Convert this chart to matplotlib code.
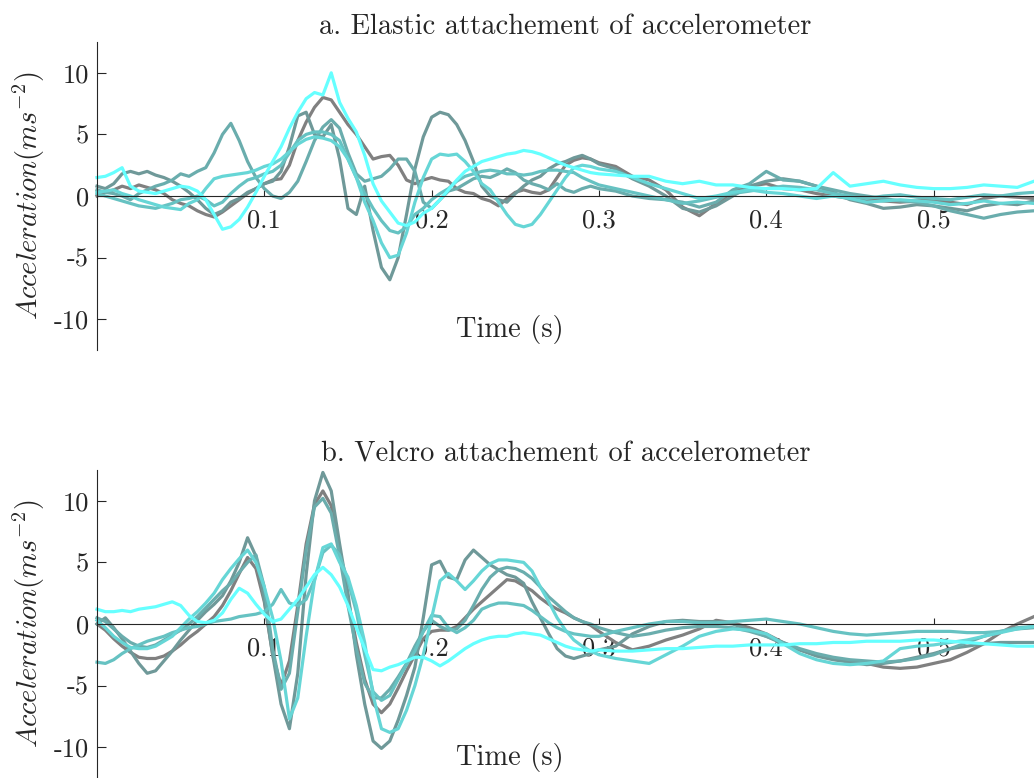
"""Plots accelerometer traces for elastic and velcro attachement."""

import matplotlib
matplotlib.use('Agg')
import matplotlib.pyplot as plt

# Sample times (s)
TIME = [0.000, 0.005, 0.010, 0.015, 0.020, 0.025, 0.030, 0.035, 0.040, 0.045,
        0.050, 0.055, 0.060, 0.065, 0.070, 0.075, 0.080, 0.085, 0.090, 0.095,
        0.100, 0.105, 0.110, 0.115, 0.120, 0.125, 0.130, 0.135, 0.140, 0.145,
        0.150, 0.155, 0.160, 0.165, 0.170, 0.175, 0.180, 0.185, 0.190, 0.195,
        0.200, 0.205, 0.210, 0.215, 0.220, 0.225, 0.230, 0.235, 0.240, 0.245,
        0.250, 0.255, 0.260, 0.265, 0.270, 0.275, 0.280, 0.285, 0.290, 0.295,
        0.300, 0.310, 0.320, 0.330, 0.340, 0.350, 0.360, 0.370, 0.380, 0.390,
        0.400, 0.410, 0.420, 0.430, 0.440, 0.450, 0.460, 0.470, 0.480, 0.490,
        0.500, 0.510, 0.520, 0.530, 0.540, 0.550, 0.560]

# a. Elastic attachement (m/s^2)
ELASTIC_1 = [0.0, 0.3, 0.5, 0.8, 0.6, 0.9, 0.7, 0.5, 0.2, -0.3,
             -0.6, -0.8, -1.2, -1.5, -1.7, -1.3, -0.8, -0.3, 0.2, 0.6,
             1.0, 1.3, 1.4, 2.5, 4.5, 6.0, 7.2, 8.0, 7.8, 6.8,
             5.8, 5.0, 4.0, 3.0, 3.2, 3.3, 2.5, 1.3, 1.0, 1.3,
             1.5, 1.3, 1.2, 0.6, 0.3, 0.2, -0.2, -0.4, -0.8, -0.2,
             0.3, 0.5, 0.3, 0.2, 0.5, 1.5, 2.5, 2.9, 3.1, 3.0,
             2.7, 2.4, 1.6, 1.3, 0.5, -0.9, -1.6, -0.6, 0.3, 0.8,
             1.0, 0.6, 0.5, 0.2, 0.0, -0.2, -0.3, -0.4, -0.5, -0.4,
             -0.3, -0.5, -0.7, -0.2, 0.0, -0.1, -0.2]
ELASTIC_2 = [0.8, 0.6, 1.0, 1.8, 2.0, 1.8, 2.0, 1.7, 1.5, 1.2,
             0.8, 0.3, -0.3, -1.0, -1.5, -1.2, -0.5, -0.2, 0.3, 0.6,
             1.0, 1.2, 2.0, 4.0, 6.5, 6.8, 5.0, 4.8, 5.8, 3.0,
             -1.0, -1.5, 0.8, -2.8, -5.8, -6.8, -5.0, -1.5, 2.2, 4.8,
             6.4, 6.8, 6.6, 5.8, 4.5, 2.8, 0.8, 0.0, -0.3, -0.5,
             0.2, 0.8, 1.3, 1.6, 2.2, 2.6, 2.8, 3.1, 3.3, 3.0,
             2.6, 2.2, 1.4, 0.8, 0.0, -1.0, -1.3, -0.8, 0.0, 0.8,
             1.2, 1.4, 1.2, 0.8, 0.3, -0.3, -0.6, -1.0, -0.9, -0.7,
             -0.8, -1.0, -1.2, -0.8, -0.6, -0.7, -0.4]
ELASTIC_3 = [0.5, 0.3, 0.2, 0.0, -0.3, 0.2, 0.5, 0.8, 1.0, 1.3,
             1.8, 1.6, 2.0, 2.3, 3.5, 5.0, 5.9, 4.5, 2.8, 1.5,
             0.6, 0.0, -0.2, 0.3, 1.2, 2.8, 4.5, 5.6, 6.2, 5.5,
             3.5, 1.8, 1.2, 1.4, 1.6, 2.2, 3.0, 3.0, 2.0, -0.5,
             -1.0, -0.3, 0.4, 0.6, 1.0, 1.4, 1.6, 1.5, 1.8, 2.2,
             1.9, 1.3, 1.0, 0.8, 0.5, 1.0, 0.5, 0.3, 0.6, 0.8,
             0.6, 0.4, 0.0, -0.2, -0.3, -0.5, -0.9, -0.5, 0.5, 1.0,
             2.0, 1.3, 1.2, 0.8, 0.5, 0.2, 0.0, -0.2, -0.4, -0.5,
             -0.8, -1.2, -1.5, -1.8, -1.5, -1.3, -1.2]
ELASTIC_4 = [0.2, 0.0, -0.2, -0.4, -0.6, -0.8, -0.9, -1.0, -0.8, -0.6,
             -0.3, -0.2, 0.0, -0.3, -0.8, -0.5, 0.2, 0.8, 1.3, 1.5,
             1.8, 2.0, 2.5, 3.5, 4.5, 5.0, 5.2, 5.2, 5.0, 4.5,
             3.0, 1.5, 0.2, -1.0, -2.0, -2.8, -3.0, -2.5, -1.5, -1.0,
             -0.3, 0.2, 0.6, 1.2, 1.6, 1.8, 2.0, 2.1, 2.0, 1.8,
             1.8, 1.7, 1.8, 2.0, 2.1, 2.1, 2.0, 1.9, 1.5, 1.2,
             0.9, 0.6, 0.3, 0.0, -0.3, -0.6, -0.4, -0.1, 0.2, 0.4,
             0.6, 0.8, 0.7, 0.5, 0.2, 0.0, -0.2, 0.0, 0.1, -0.1,
             -0.2, -0.3, -0.1, 0.1, 0.0, 0.2, 0.3]
ELASTIC_5 = [0.3, 0.4, 0.5, 0.2, 0.0, -0.3, -0.5, -0.7, -0.9, -1.0,
             -1.1, -0.6, -0.3, 0.6, 1.4, 1.6, 1.7, 1.8, 1.9, 2.1,
             2.4, 2.6, 3.0, 3.6, 4.2, 4.6, 4.8, 4.7, 4.5, 4.0,
             3.0, 1.5, -0.5, -2.0, -3.8, -5.0, -4.8, -3.0, -0.5, 1.5,
             3.0, 3.4, 3.3, 3.4, 2.8, 2.0, 1.0, 0.5, -0.5, -1.5,
             -2.3, -2.5, -2.3, -1.5, -0.5, 0.5, 1.5, 2.3, 2.5, 2.4,
             2.2, 2.0, 1.5, 1.0, 0.6, 0.2, -0.2, 0.0, 0.3, 0.5,
             0.3, 0.2, 0.0, -0.2, 0.0, -0.2, -0.5, -0.4, -0.3, -0.4,
             -0.5, -0.7, -0.6, -0.4, -0.6, -0.5, -0.6]
ELASTIC_6 = [1.5, 1.6, 1.9, 2.3, 0.8, 0.4, 0.3, 0.2, 0.4, 0.6,
             0.8, 0.7, 0.4, -0.3, -1.5, -2.7, -2.5, -1.9, -0.9, 0.3,
             1.6, 2.8, 4.0, 5.5, 6.8, 7.9, 8.4, 8.2, 10.0, 7.6,
             6.3, 5.2, 3.3, 1.0, -0.4, -1.3, -2.2, -2.4, -2.1, -1.4,
             -1.0, -0.3, 0.5, 1.3, 2.0, 2.4, 2.8, 3.0, 3.2, 3.4,
             3.5, 3.7, 3.6, 3.4, 3.1, 2.8, 2.5, 2.3, 2.1, 1.9,
             1.8, 1.7, 1.6, 1.6, 1.2, 1.0, 1.2, 0.9, 0.9, 0.7,
             0.6, 0.6, 0.5, 0.6, 1.9, 0.8, 1.0, 1.2, 0.9, 0.7,
             0.6, 0.6, 0.7, 0.9, 0.8, 0.7, 1.2]

# b. Velcro attachement (m/s^2)
VELCRO_1 = [0.0, -0.5, -1.2, -1.8, -2.3, -2.7, -2.8, -2.8, -2.6, -2.2,
            -1.7, -1.1, -0.6, 0.0, 0.6, 1.5, 2.7, 4.1, 5.4, 4.5,
            1.8, -2.5, -5.0, -3.0, 1.5, 6.5, 9.7, 10.8, 9.6, 6.0,
            2.0, -1.5, -4.5, -6.5, -7.2, -6.5, -5.2, -3.8, -2.5, -1.2,
            -0.6, -0.5, -0.5, -0.2, 0.5, 1.2, 1.8, 2.4, 3.0, 3.6,
            3.5, 3.1, 2.7, 2.1, 1.6, 1.2, 0.9, 0.5, 0.2, -0.1,
            -0.6, -1.5, -2.1, -1.8, -1.3, -0.9, -0.4, 0.3, 0.1, -0.3,
            -0.8, -1.5, -2.1, -2.5, -2.8, -3.0, -3.2, -3.5, -3.6, -3.5,
            -3.2, -2.9, -2.3, -1.6, -0.7, 0.0, 0.6]
VELCRO_2 = [0.0, 0.5, -0.3, -1.2, -2.2, -3.2, -4.0, -3.8, -3.0, -2.2,
            -1.3, -0.5, 0.3, 1.0, 1.6, 2.3, 3.5, 5.0, 7.0, 5.5,
            2.0, -2.5, -6.5, -8.5, -4.0, 4.0, 10.0, 12.3, 10.8, 6.5,
            2.5, -2.5, -6.5, -9.5, -10.1, -9.5, -7.8, -5.8, -3.5, 0.5,
            4.8, 5.1, 3.8, 3.6, 5.2, 6.0, 5.4, 4.8, 4.4, 4.0,
            3.8, 3.3, 1.8, 0.5, -0.8, -2.0, -2.6, -2.8, -2.6, -2.4,
            -2.1, -1.8, -0.8, -0.2, 0.2, 0.3, 0.2, 0.2, 0.0, -0.5,
            -1.0, -1.6, -2.1, -2.6, -2.9, -3.1, -3.3, -3.2, -3.0, -2.7,
            -2.4, -2.0, -1.8, -1.6, -1.5, -1.5, -1.5]
VELCRO_3 = [0.5, 0.2, -0.4, -1.0, -1.5, -1.8, -1.9, -1.7, -1.3, -0.9,
            -0.5, 0.0, 0.6, 1.3, 2.0, 2.7, 3.3, 4.2, 5.0, 5.6,
            3.0, -2.0, -5.3, -4.0, 1.0, 6.0, 9.5, 10.2, 9.0, 5.5,
            1.5, -2.0, -4.8, -6.0, -6.0, -5.3, -4.3, -3.2, -1.8, -0.6,
            0.3, -0.2, -0.5, -0.4, 0.3, 1.5, 2.8, 3.8, 4.4, 4.6,
            4.5, 4.2, 3.7, 3.0, 2.2, 1.6, 1.0, 0.5, 0.2, 0.0,
            -0.3, -0.7, -1.0, -0.8, -0.5, -0.3, -0.2, -0.2, -0.3, -0.6,
            -1.0, -1.5, -2.0, -2.4, -2.7, -2.9, -3.0, -3.1, -3.0, -2.8,
            -2.5, -2.0, -1.5, -1.0, -0.6, -0.4, -0.3]
VELCRO_4 = [-3.1, -3.2, -2.9, -2.4, -2.0, -1.7, -1.4, -1.2, -1.0, -0.7,
            -0.5, -0.3, -0.2, 0.0, 0.2, 0.3, 0.4, 0.6, 0.7, 0.8,
            1.0, 1.6, 2.8, 1.7, 1.5, 2.0, 3.6, 5.8, 6.4, 5.6,
            3.5, 1.0, -2.5, -5.5, -6.2, -5.8, -4.5, -3.3, -2.2, -0.6,
            0.7, 0.6, -0.3, -0.7, -0.3, 0.3, 1.2, 1.5, 1.7, 1.7,
            1.6, 1.5, 1.1, 0.6, 0.1, -0.3, -0.6, -0.8, -0.9, -1.0,
            -1.0, -0.6, -0.3, 0.0, 0.2, 0.2, 0.1, 0.1, 0.2, 0.3,
            0.4, 0.2, 0.0, -0.3, -0.6, -0.8, -0.9, -0.8, -0.7, -0.6,
            -0.6, -0.6, -0.7, -0.7, -0.6, -0.3, -0.2]
VELCRO_5 = [0.3, -0.3, -1.0, -1.5, -1.9, -2.0, -2.0, -1.8, -1.4, -1.0,
            -0.3, 0.4, 1.0, 1.7, 2.5, 3.6, 4.5, 5.3, 6.0, 5.0,
            3.0, 0.5, -3.0, -7.7, -6.0, -1.0, 3.5, 6.2, 6.5, 5.0,
            3.8, 1.5, -1.5, -5.8, -8.5, -8.8, -8.5, -7.0, -5.0, -2.5,
            0.5, 3.5, 4.1, 3.5, 2.8, 3.5, 4.3, 4.9, 5.2, 5.2,
            5.1, 5.0, 4.3, 3.0, 1.8, 0.5, -0.5, -1.3, -1.8, -2.2,
            -2.5, -2.8, -3.0, -3.2, -2.5, -1.8, -1.0, -0.6, -0.4, -0.5,
            -0.8, -1.6, -2.4, -2.9, -3.2, -3.3, -3.2, -3.0, -2.0, -1.8,
            -1.7, -1.5, -1.3, -1.0, -0.7, -0.4, -0.2]
VELCRO_6 = [1.2, 1.0, 1.0, 1.1, 1.0, 1.2, 1.3, 1.4, 1.6, 1.8,
            1.5, 0.7, 0.2, 0.1, 0.3, 0.9, 2.0, 2.9, 2.5, 1.6,
            0.8, 0.2, 0.4, 1.2, 2.0, 3.0, 4.0, 4.6, 4.0, 3.0,
            1.5, -0.3, -2.0, -3.7, -3.8, -3.5, -3.3, -3.0, -2.7, -2.7,
            -3.0, -3.4, -3.0, -2.5, -2.0, -1.6, -1.3, -1.1, -1.0, -1.0,
            -0.8, -0.7, -0.8, -0.9, -1.2, -1.5, -1.8, -2.0, -2.1, -2.2,
            -2.1, -2.2, -2.2, -2.1, -2.0, -2.0, -1.9, -1.8, -1.8, -1.7,
            -1.7, -1.7, -1.6, -1.6, -1.5, -1.5, -1.4, -1.4, -1.4, -1.3,
            -1.3, -1.4, -1.5, -1.6, -1.7, -1.8, -1.8]

X_TICKS = [0.1, 0.2, 0.3, 0.4, 0.5]
X_LABELS = ['0.1', '0.2', '0.3', '0.4', '0.5']
Y_TICKS = [-10, -5, 0, 5, 10]
Y_LABELS = ['-10', '-5', '0', '5', '10']

COLORS = ['#808080', '#6f9999', '#6aadad', '#66c2c2', '#66d6d6', '#66ffff']
INK = '#262626'


def style_axes(axes, title):
    """Sets MATLAB-like origin axes on one panel."""
    axes.set_xlim(0, 0.56)
    axes.set_ylim(-12.5, 12.5)
    axes.spines['bottom'].set_position(('data', 0))
    axes.spines['top'].set_visible(False)
    axes.spines['right'].set_visible(False)
    for side in ('left', 'bottom'):
        axes.spines[side].set_color(INK)
        axes.spines[side].set_linewidth(0.8)
    axes.set_xticks(X_TICKS)
    axes.set_xticklabels(X_LABELS)
    axes.set_yticks(Y_TICKS)
    axes.set_yticklabels(Y_LABELS)
    axes.tick_params(axis='x', direction='in', length=4.5, width=0.8,
                     pad=9, labelsize=19, colors=INK)
    axes.tick_params(axis='y', direction='in', length=6.5, width=0.8,
                     pad=6, labelsize=19, colors=INK)
    axes.set_axisbelow(True)
    axes.set_title(title, fontsize=20.5, color=INK, pad=6)
    axes.text(-0.072, 0.5, r'$Acceleration(ms^{-2})$', transform=axes.transAxes,
              rotation=90, ha='center', va='center', fontsize=20.5, color=INK)
    axes.text(0.4408, 0.068, 'Time (s)', transform=axes.transAxes,
              ha='center', va='center', fontsize=20.5, color=INK)


def main():
    """Plots both panels and saves out.png."""
    plt.rcParams['font.family'] = 'serif'
    plt.rcParams['font.serif'] = ['cmr10']
    plt.rcParams['mathtext.fontset'] = 'cm'
    plt.rcParams['axes.unicode_minus'] = False

    fig = plt.figure(figsize=(10.34, 7.78), dpi=100)
    top = fig.add_axes([0.0938, 0.5501, 0.9062, 0.3959])
    bottom = fig.add_axes([0.0938, 0.0, 0.9062, 0.3959])

    elastic = [ELASTIC_1, ELASTIC_2, ELASTIC_3, ELASTIC_4, ELASTIC_5, ELASTIC_6]
    velcro = [VELCRO_1, VELCRO_2, VELCRO_3, VELCRO_4, VELCRO_5, VELCRO_6]

    for values, color in zip(elastic, COLORS):
        top.plot(TIME, values, color=color, linewidth=2.3, clip_on=False)
    for values, color in zip(velcro, COLORS):
        bottom.plot(TIME, values, color=color, linewidth=2.3, clip_on=False)

    style_axes(top, 'a. Elastic attachement of accelerometer')
    style_axes(bottom, 'b. Velcro attachement of accelerometer')

    fig.savefig('out.png', dpi=100)
    plt.close(fig)


if __name__ == '__main__':
    main()
